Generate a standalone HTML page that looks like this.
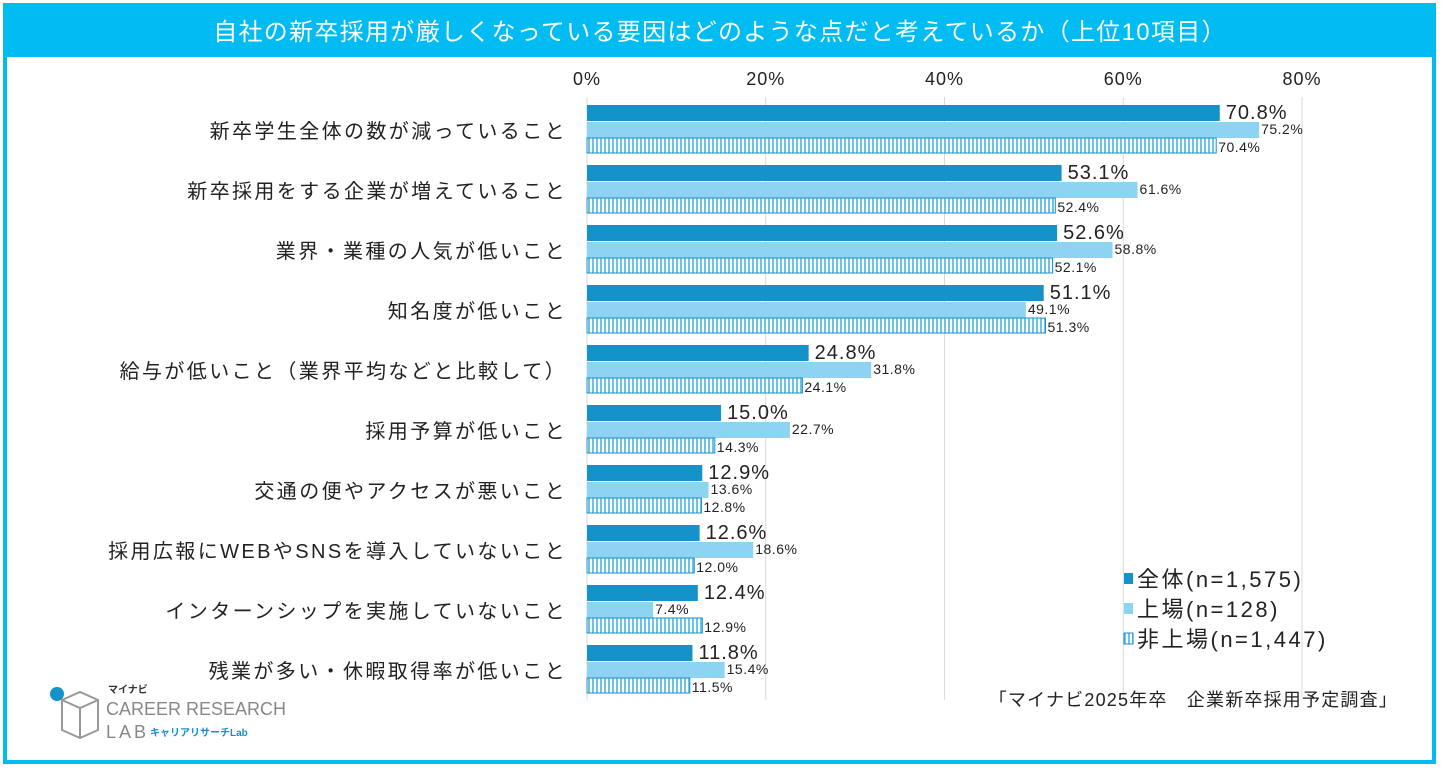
<!DOCTYPE html>
<html><head><meta charset="utf-8"><style>
body{margin:0;width:1441px;height:771px;background:#fff;overflow:hidden;font-family:"Liberation Sans","Noto Sans CJK JP",sans-serif}
</style></head><body>
<svg width="1441" height="771" style="position:absolute;left:0;top:0">
<defs><pattern id="stripe" width="4" height="10" patternUnits="userSpaceOnUse"><rect width="4" height="10" fill="#fff"/><rect width="2" height="10" fill="#6cc3ea"/></pattern></defs>
<rect x="5" y="5" width="1429" height="757" fill="none" stroke="#00bcf2" stroke-width="4"/>
<rect x="5" y="7" width="1429" height="50" fill="#00bcf2"/>
<text x="720" y="40" text-anchor="middle" fill="#fff" font-size="24" letter-spacing="1.3">自社の新卒採用が厳しくなっている要因はどのような点だと考えているか（上位10項目）</text>
<g id="grid"></g><g id="bars"></g>
<g font-size="22" fill="#222" letter-spacing="2.5">
<rect x="1124" y="573" width="9" height="11" fill="#1592c9"/>
<text x="1137" y="587">全体(n=1,575)</text>
<rect x="1124" y="603" width="9" height="11" fill="#8dd4f2"/>
<text x="1137" y="617">上場(n=128)</text>
<rect x="1124" y="633" width="9" height="11" fill="url(#stripe)" stroke="#1592c9"/>
<text x="1137" y="647">非上場(n=1,447)</text>
</g>
<text x="1398" y="706" text-anchor="end" font-size="18" letter-spacing="1.2" fill="#222">「マイナビ2025年卒　企業新卒採用予定調査」</text>
<g>
<circle cx="57" cy="694" r="7" fill="#1592c9"/>
<path d="M62 700 L80 692 L98 700 L98 730 L80 738 L62 730 Z M80 708 L80 738 M62 700 L80 708 L98 700" fill="none" stroke="#999" stroke-width="2"/>
<text x="108" y="693" font-size="10" fill="#333" font-weight="bold">マイナビ</text>
<text x="106" y="715" font-size="18" fill="#888">CAREER RESEARCH</text>
<text x="106" y="738" font-size="18" fill="#888" letter-spacing="3">LAB</text>
<text x="150" y="736" font-size="10" fill="#1592c9" font-weight="bold">キャリアリサーチLab</text>
</g>
</svg>
<script>
const categories=["新卒学生全体の数が減っていること","新卒採用をする企業が増えていること","業界・業種の人気が低いこと","知名度が低いこと","給与が低いこと（業界平均などと比較して）","採用予算が低いこと","交通の便やアクセスが悪いこと","採用広報にWEBやSNSを導入していないこと","インターンシップを実施していないこと","残業が多い・休暇取得率が低いこと"];
const allValues=[70.8,53.1,52.6,51.1,24.8,15.0,12.9,12.6,12.4,11.8];
const listedValues=[75.2,61.6,58.8,49.1,31.8,22.7,13.6,18.6,7.4,15.4];
const unlistedValues=[70.4,52.4,52.1,51.3,24.1,14.3,12.8,12.0,12.9,11.5];
const ticks=[0,20,40,60,80];
const NS="http://www.w3.org/2000/svg";
const x=v=>587+v*(1302-587)/80;
function mk(tag,attrs,parent,txt){const e=document.createElementNS(NS,tag);for(const k in attrs)e.setAttribute(k,attrs[k]);if(txt!==undefined)e.textContent=txt;parent.appendChild(e);return e;}
const grid=document.getElementById('grid'),bars=document.getElementById('bars');
ticks.forEach(t=>{
 const l=mk('line',{x1:x(t),x2:x(t),y1:97,y2:700,stroke:'#d9d9d9','stroke-width':1},grid);
 
 
 const tx=mk('text',{x:x(t),y:85,'text-anchor':'middle','font-size':18,fill:'#222','letter-spacing':1},grid,t+'%');
 
 
});
categories.forEach((c,i)=>{
 const top=105+60*i;
 const lab=mk('text',{x:567,y:top+33,'text-anchor':'end','font-size':20,'letter-spacing':2.4,fill:'#222'},bars,c);
 
 
 const specs=[[allValues[i],'#1592c9','none',top,20,-2],[listedValues[i],'#8dd4f2','none',top+17,14,-1],[unlistedValues[i],'url(#stripe)','#1592c9',top+33,14,1]];
 specs.forEach((s,j)=>{
  const r=mk('rect',{x:x(0),y:s[3],width:x(s[0])-x(0),height:j==2?15:16,fill:s[1],stroke:s[2],'stroke-width':1},bars);
  
  
  const t=mk('text',{x:x(s[0])+(j==0?6:2),y:s[3]+13+s[5]+(j==0?3:0),'font-size':s[4],fill:'#222','letter-spacing':j==0?1:0.5},bars,s[0].toFixed(1)+'%');
  
  
 });
});
</script>
</body></html>
